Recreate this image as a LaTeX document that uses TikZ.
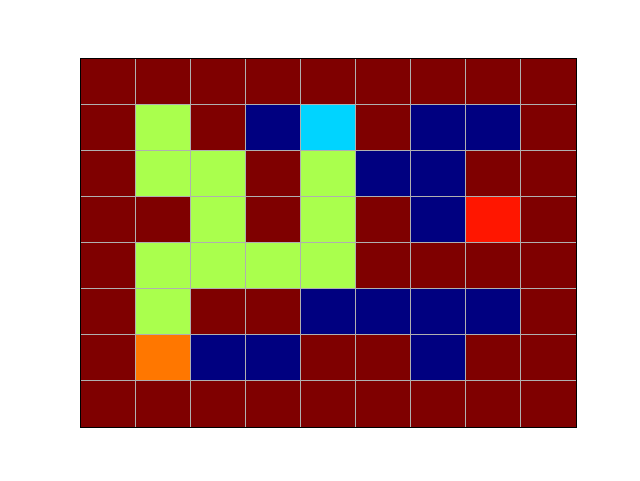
\documentclass[tikz,border=0pt]{standalone}
\usepackage{tikz}

\definecolor{jetM}{RGB}{127,0,0}
\definecolor{jetG}{RGB}{170,255,77}
\definecolor{jetB}{RGB}{0,0,128}
\definecolor{jetC}{RGB}{0,212,255}
\definecolor{jetR}{RGB}{255,22,0}
\definecolor{jetO}{RGB}{255,119,0}
\definecolor{gridgray}{RGB}{176,176,176}

\begin{document}
\begin{tikzpicture}[x=1pt,y=-1pt,
    gridline/.style={draw=gridgray,line width=0.8pt},
    frame/.style={draw=black,line width=0.8pt}]
    \useasboundingbox[fill=white] (0,0) rectangle (640,480);
    % cells, top row first
    \foreach \row [count=\r from 0] in {{M,M,M,M,M,M,M,M,M},{M,G,M,B,C,M,B,B,M},{M,G,G,M,G,B,B,M,M},{M,M,G,M,G,M,B,R,M},{M,G,G,G,G,M,M,M,M},{M,G,M,M,B,B,B,B,M},{M,O,B,B,M,M,B,M,M},{M,M,M,M,M,M,M,M,M}}{
        \foreach \cl [count=\c from 0] in \row {
            \fill[jet\cl] ({80+\c*496/9},{58+\r*369/8}) rectangle ({80+(\c+1)*496/9},{58+(\r+1)*369/8});
        }
    }
    % grid
    \foreach \c in {1,...,8}
        \draw[gridline] ({80+\c*496/9},58) -- ({80+\c*496/9},427);
    \foreach \r in {1,...,7}
        \draw[gridline] (80,{58+\r*369/8}) -- (576,{58+\r*369/8});
    \draw[frame] (80,58) rectangle (576,427);
\end{tikzpicture}
\end{document}
